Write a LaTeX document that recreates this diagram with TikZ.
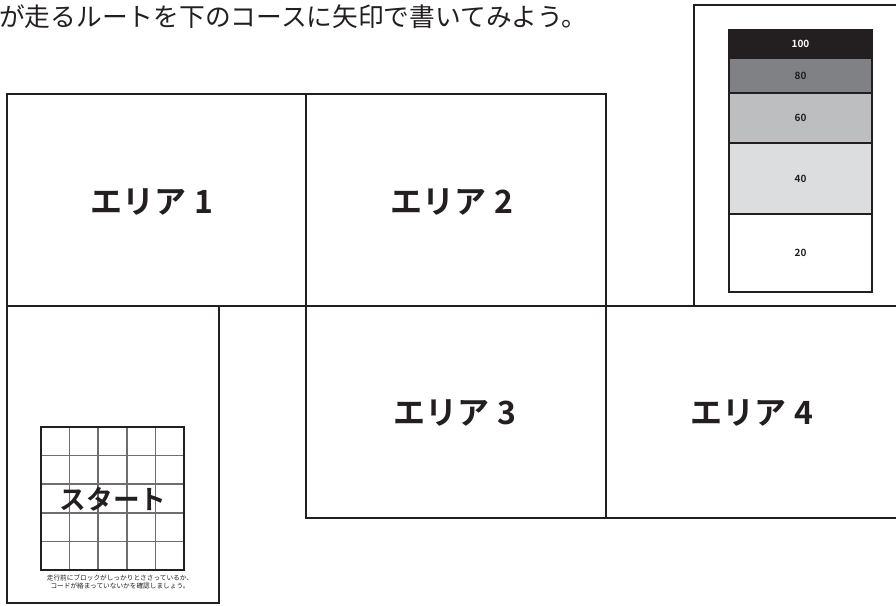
\documentclass[tikz,border=0pt]{standalone}
\usepackage{fontspec}
\newfontfamily\jp{Noto Sans CJK JP}
\newfontfamily\jpb{Noto Sans CJK JP Bold}
\tikzset{
  wall/.style={line width=1.6pt, draw={rgb,255:red,35;green,31;blue,32}, line cap=rect},
  arealabel/.style={font=\jpb\fontsize{24}{26}\selectfont, text={rgb,255:red,35;green,31;blue,32}},
  scalelabel/.style={font=\jpb\fontsize{7.5}{8}\selectfont},
  band/.style={draw={rgb,255:red,35;green,31;blue,32}, line width=0.8pt}
}
\definecolor{ink}{RGB}{35,31,32}
\definecolor{g80}{RGB}{128,129,132}
\definecolor{g60}{RGB}{188,190,192}
\definecolor{g40}{RGB}{220,221,222}
\definecolor{gridgrey}{RGB}{110,110,112}
\begin{document}
\begin{tikzpicture}[x=0.75pt,y=-0.75pt]
\useasboundingbox (0,0) rectangle (896,606);
% header text
\node[anchor=west, inner sep=0pt, font=\jp\fontsize{19.3}{21}\selectfont, text=ink] (title) at (-1,17) {が走るルートを下のコースに矢印で書いてみよう。};
% course walls
\draw[wall] (7,306) -- (7,94) -- (606,94) -- (606,306);
\draw[wall] (306,94) -- (306,518);
\draw[wall] (7,306) -- (900,306);
\draw[wall] (7,306) -- (7,603) -- (219,603) -- (219,306);
\draw[wall] (306,518) -- (900,518);
\draw[wall] (606,306) -- (606,518);
% scale box
\draw[wall] (694,306) -- (694,5) -- (900,5);
\fill[ink] (729,30) rectangle (872,58);
\fill[g80] (729,58) rectangle (872,93);
\fill[g60] (729,93) rectangle (872,143);
\fill[g40] (729,143) rectangle (872,214);
\fill[white] (729,214) rectangle (872,292);
\draw[band] (729,58) -- (872,58) (729,93) -- (872,93) (729,143) -- (872,143) (729,214) -- (872,214);
\draw[band] (729,30) rectangle (872,292);
\node[scalelabel, text=white] (s100) at (800.5,44) {100};
\node[scalelabel, text=ink] (s80) at (800.5,75.5) {80};
\node[scalelabel, text=ink] (s60) at (800.5,118) {60};
\node[scalelabel, text=ink] (s40) at (800.5,178.5) {40};
\node[scalelabel, text=ink] (s20) at (800.5,253) {20};
% area labels
\node[arealabel] (a1) at (152,202) {エリア 1};
\node[arealabel] (a2) at (452,202) {エリア 2};
\node[arealabel] (a3) at (455,413) {エリア 3};
\node[arealabel] (a4) at (752,413) {エリア 4};
% start grid
\foreach \i in {1,2,3,4} {
  \draw[line width=1.2pt, draw=gridgrey] ({41+\i*28.6},427) -- ({41+\i*28.6},570);
  \draw[line width=1.2pt, draw=gridgrey] (41,{427+\i*28.6}) -- (184,{427+\i*28.6});
}
\draw[line width=1.1pt, draw=ink] (41,427) rectangle (184,570);
\node[font=\jpb\fontsize{20}{22}\selectfont, text=ink, inner sep=0pt] (start) at (113,499) {スタート};
\node[font=\jp\fontsize{5}{6.6}\selectfont, text=ink, align=center, inner sep=0pt] (note) at (120,582) {走行前にブロックがしっかりとささっているか、\\コードが絡まっていないかを確認しましょう。};
\end{tikzpicture}
\end{document}
